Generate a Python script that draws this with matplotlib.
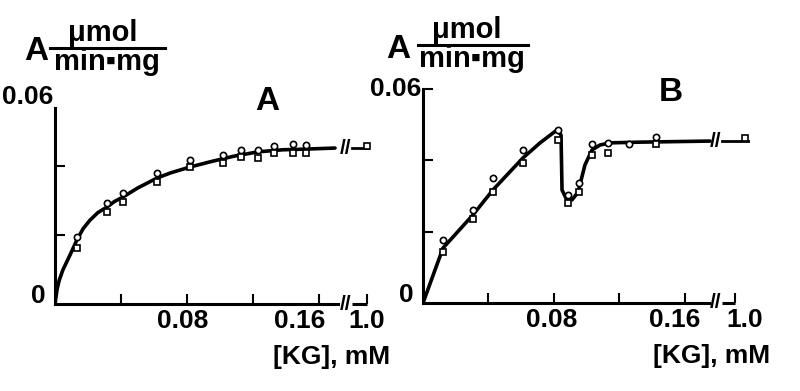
import numpy as np
import matplotlib.pyplot as plt

plt.rcParams['font.family'] = ['Liberation Sans', 'DejaVu Sans']

# ---- panel A : [KG] (mM) vs activity, two replicate points per concentration
a_x = [0.0133, 0.0315, 0.0412, 0.0618, 0.082, 0.102, 0.113, 0.123, 0.133, 0.144, 0.152]
a_y1 = [0.0194, 0.0293, 0.0322, 0.0380, 0.0417, 0.0432, 0.0446, 0.0446, 0.0458, 0.0464, 0.0461]
a_y2 = [0.0162, 0.0267, 0.0296, 0.0354, 0.0397, 0.0409, 0.0426, 0.0423, 0.0438, 0.0438, 0.0438]
a_at_one = 0.0458  # point measured at 1.0 mM
a_curve_x = [0, 0.0012, 0.0025, 0.0048, 0.0091, 0.0133, 0.017, 0.0212, 0.026, 0.0315, 0.036,
             0.0412, 0.05, 0.0618, 0.07, 0.0818, 0.0939, 0.108, 0.123, 0.138, 0.152, 0.1697]
a_curve_y = [0, 0.0041, 0.0068, 0.0099, 0.0142, 0.0186, 0.0218, 0.0243, 0.0265, 0.0281, 0.0297,
             0.0310, 0.0336, 0.0365, 0.0380, 0.0397, 0.0412, 0.0428, 0.0441, 0.0447, 0.0449, 0.0452]

# ---- panel B
b_x = [0.0122, 0.0305, 0.0427, 0.061, 0.0824, 0.0885, 0.0953, 0.103, 0.113, 0.126, 0.142]
b_y1 = [0.0177, 0.0261, 0.0350, 0.0429, 0.0485, 0.0303, 0.0336, 0.0446, 0.0449, 0.0446, 0.0465]
b_y2 = [0.0143, 0.0236, 0.0311, 0.0393, 0.0457, 0.0280, 0.0311, 0.0415, 0.0420, np.nan, 0.0446]
b_at_one = 0.0463
b_curve_x = [0, 0.0122, 0.0305, 0.0427, 0.0611, 0.0715, 0.0818, 0.0843, 0.0849, 0.0873,
             0.091, 0.0947, 0.0989, 0.1032, 0.1081, 0.1142, 0.1325, 0.1753]
b_curve_y = [0, 0.0154, 0.0247, 0.0317, 0.0407, 0.0449, 0.0485, 0.0471, 0.0317, 0.0294,
             0.0289, 0.0311, 0.0387, 0.0429, 0.0443, 0.0449, 0.0451, 0.0454]

x_ticks = [0.04, 0.08, 0.12, 0.16]
x_labels = ['0.08', '0.16', '1.0']

fig = plt.figure(figsize=(8, 3.91), dpi=100)


def fig_text(px, py, s, **kw):
    fig.text(px / 800, 1 - py / 391, s, **kw)


def panel(rect, xmax, cx, cy, px, py1, py2, one_pos, one_val, cut, axis_end,
          spine_top, yticks, title, lab_pos):
    ax = fig.add_axes(rect)
    ax.set_xlim(0, xmax)
    ax.set_ylim(0, 0.06)
    for s in ['top', 'right']:
        ax.spines[s].set_visible(False)
    ax.spines['left'].set_linewidth(2.2)
    ax.spines['bottom'].set_linewidth(2.2)
    ax.spines['left'].set_bounds(0, spine_top)
    ax.spines['bottom'].set_bounds(0, cut - 0.004)
    # short bit of x axis after the break
    ax.plot([cut + 0.004, axis_end], [0, 0], color='k', lw=2.2, clip_on=False, solid_capstyle='butt')
    ax.set_xticks(x_ticks + [axis_end])
    ax.set_yticks(yticks)
    ax.tick_params(direction='in', length=7, width=1.5, labelbottom=False, labelleft=False)

    ax.plot(cx, cy, color='k', lw=2.6, solid_capstyle='round', solid_joinstyle='round')
    ax.plot([cut + 0.004, one_pos + 0.003], [cy[-1], cy[-1]], color='k', lw=2)
    ax.plot(px, py1, 'o', ms=4.5, mfc='white', mec='k', mew=1.2, clip_on=False)
    ax.plot(px, py2, 's', ms=4, mfc='white', mec='k', mew=1.2, clip_on=False)
    ax.plot([one_pos], [one_val], 's', ms=4, mfc='white', mec='k', mew=1.2, clip_on=False)

    # break marks
    for yb in [0, cy[-1]]:
        ax.text(cut, yb, '//', ha='center', va='center', fontsize=15, fontweight='bold',
                clip_on=False)

    # tick labels
    for xp, lab in zip(lab_pos, x_labels):
        ax.annotate(lab, (xp, 0), xytext=(0, -17), textcoords='offset pixels',
                    ha='center', va='center', fontsize=19, fontweight='bold')
    ax.annotate('0', (0, 0), xytext=(-9, 8), textcoords='offset pixels',
                ha='right', va='center', fontsize=19, fontweight='bold')
    ax.annotate('0.06', (0, 0.06), xytext=(-2, 0), textcoords='offset pixels',
                ha='right', va='center', fontsize=19, fontweight='bold')
    ax.annotate('[KG], mM', (xmax, 0), xytext=(20, -53), textcoords='offset pixels',
                ha='right', va='center', fontsize=19, fontweight='bold')
    ax.text(title[1], title[2], title[0], transform=ax.transAxes, ha='center', va='center',
            fontsize=24, fontweight='bold')
    return ax


panel([55 / 800, 87 / 391, 315 / 800, 207 / 391], 0.1909, a_curve_x, a_curve_y,
      a_x, a_y1, a_y2, 0.189, a_at_one, 0.1758, 0.189, 0.0568,
      [0.02, 0.04], ('A', 0.674, 0.98), [0.0776, 0.1485, 0.189])
panel([423 / 800, 88 / 391, 327 / 800, 214 / 391], 0.1997, b_curve_x, b_curve_y,
      b_x, b_y1, b_y2, 0.1966, b_at_one, 0.1789, 0.1905, 0.06,
      [0.02, 0.04, 0.06], ('B', 0.758, 0.985), [0.0788, 0.1539, 0.1966])

# y-axis unit labels: A (umol / min.mg)
for ax_px, frac_l, frac_r, cx_top, cx_bot, ly in [(36, 50, 165, 103, 107, 48),
                                                   (398, 418, 528, 467, 472, 45)]:
    fig_text(ax_px, ly + 4, 'A', ha='center', va='center', fontsize=24, fontweight='bold')
    fig_text(cx_top, ly - 15, '\u03bcmol', ha='center', va='center', fontsize=21, fontweight='bold')
    fig_text(cx_bot, ly + 14, 'min\u25aamg', ha='center', va='center', fontsize=21, fontweight='bold')
    fig.add_artist(plt.Line2D([frac_l / 800, frac_r / 800], [1 - ly / 391, 1 - ly / 391],
                              color='k', lw=2.2))

fig.savefig('out.png', dpi=100)
